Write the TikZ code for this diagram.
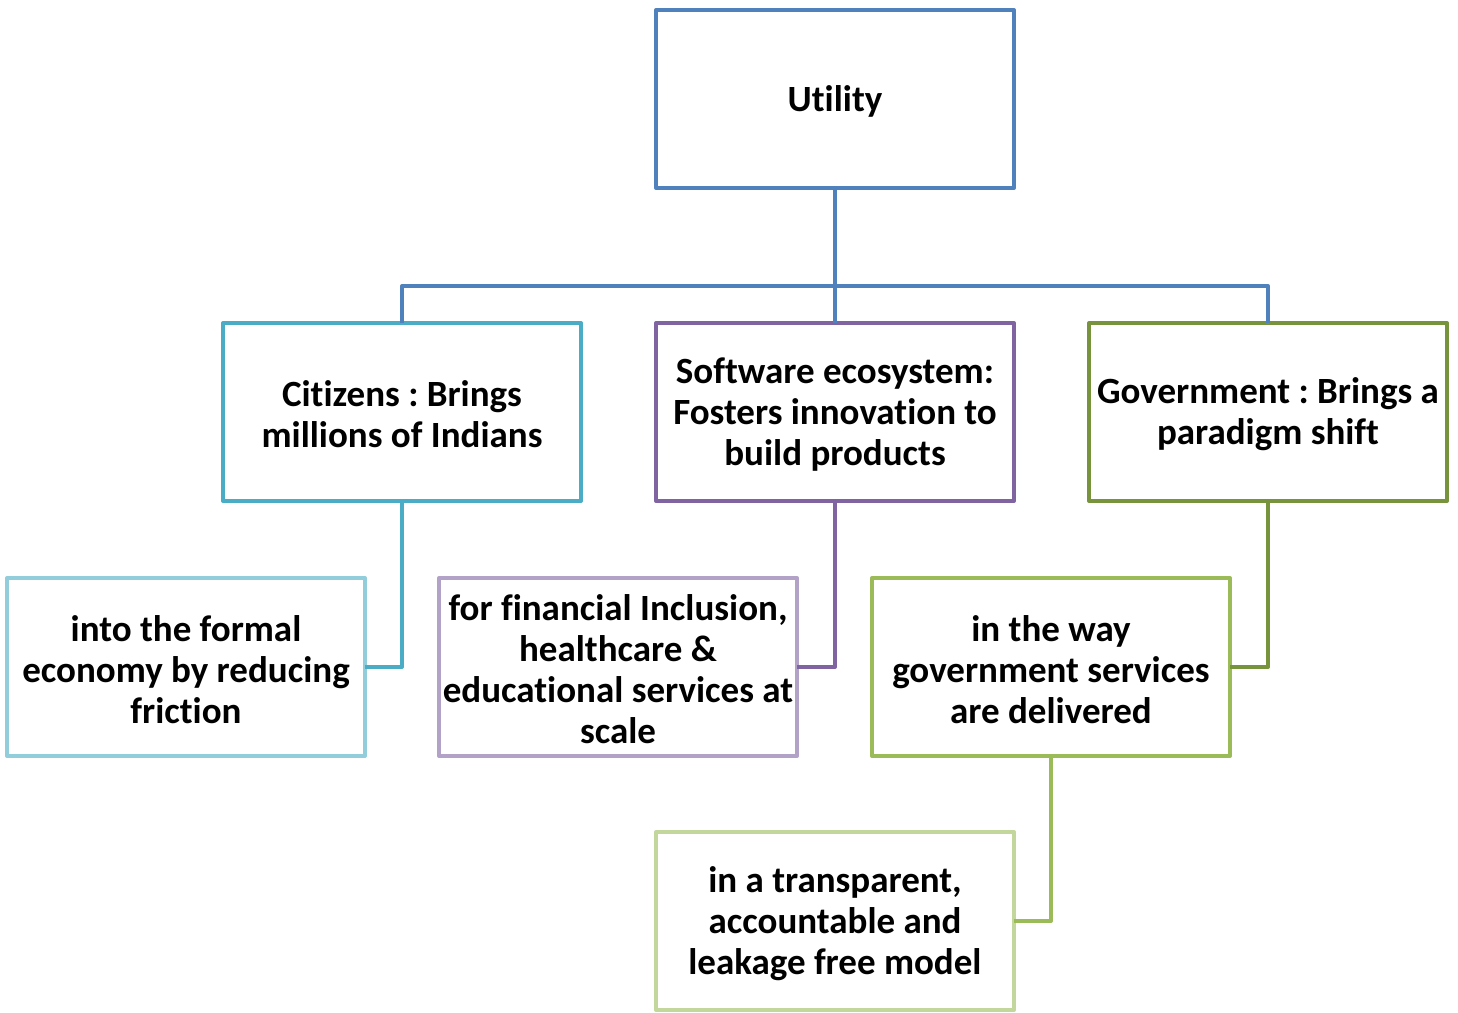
\documentclass[tikz,border=0pt]{standalone}
\usepackage{fontspec}
\setmainfont{Carlito}[Ligatures=NoCommon]
\frenchspacing
\definecolor{cBlue}{HTML}{4F81BD}
\definecolor{cAqua}{HTML}{4BACC6}
\definecolor{cAquaL}{HTML}{92CDDC}
\definecolor{cPurple}{HTML}{8064A2}
\definecolor{cPurpleL}{HTML}{B3A2C7}
\definecolor{cGreen}{HTML}{77933C}
\definecolor{cGreenM}{HTML}{9BBB59}
\definecolor{cGreenL}{HTML}{C3D69B}
\begin{document}
\begin{tikzpicture}[x=1pt,y=-1pt,
  box/.style={draw, line width=4pt, line join=round, fill=white, minimum width=358pt, minimum height=178pt, inner sep=0pt, outer sep=0pt, anchor=north west},
  boxtext/.style={inner sep=0pt, align=center, font=\fontsize{37}{41}\selectfont\bfseries, yshift=-2.5pt},
  link/.style={line width=4pt, line join=round}]
\useasboundingbox (0,0) rectangle (1458,1012);
\node[box, draw=cBlue, label={[boxtext]center:Utility}] (util) at (656,10) {};
\node[box, draw=cAqua, label={[boxtext]center:{Citizens : Brings\\millions of Indians}}] (cit) at (223,323) {};
\node[box, draw=cPurple, label={[boxtext]center:{Software ecosystem:\\Fosters innovation to\\build products}}] (soft) at (656,323) {};
\node[box, draw=cGreen, label={[boxtext]center:{Government : Brings a\\paradigm shift}}] (gov) at (1089,323) {};
\node[box, draw=cAquaL, label={[boxtext]center:{into the formal\\economy by reducing\\friction}}] (into) at (7,578) {};
\node[box, draw=cPurpleL, label={[boxtext]center:{for financial Inclusion,\\healthcare \&\\educational services at\\scale}}] (fin) at (439,578) {};
\node[box, draw=cGreenM, label={[boxtext]center:{in the way\\government services\\are delivered}}] (way) at (872,578) {};
\node[box, draw=cGreenL, label={[boxtext]center:{in a transparent,\\accountable and\\leakage free model}}] (trans) at (656,832) {};
\coordinate (bus) at (835,286);
\draw[link, cBlue] (util.south) -- (bus);
\draw[link, cBlue] (bus) -| (cit.north);
\draw[link, cBlue] (bus) -- (soft.north);
\draw[link, cBlue] (bus) -| (gov.north);
\draw[link, cAqua] (cit.south) |- (into.east);
\draw[link, cPurple] (soft.south) |- (fin.east);
\draw[link, cGreen] (gov.south) |- (way.east);
\draw[link, cGreenM] (way.south) |- (trans.east);
\end{tikzpicture}
\end{document}
